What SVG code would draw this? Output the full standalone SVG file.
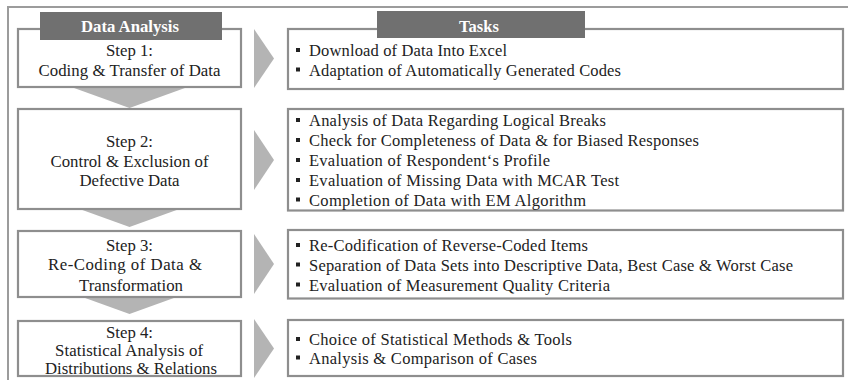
<svg xmlns="http://www.w3.org/2000/svg" width="848" height="380" viewBox="0 0 848 380">
  <defs>
    <style>
      .frame { fill: none; stroke: #9c9c9c; stroke-width: 2; }
      .box { fill: #ffffff; stroke: #8e8e8e; stroke-width: 2.2; }
      .head { fill: #707070; }
      .arrow { fill: #b4b4b4; }
      text { font-family: "Liberation Serif", "Times New Roman", serif; }
      .headtxt { font-weight: bold; font-size: 16.5px; fill: #ffffff; text-anchor: middle; }
      .step { font-size: 16.8px; fill: #222222; text-anchor: middle; }
      .task { font-size: 16.5px; fill: #222222; }
      .bullet { fill: #222222; }
    </style>
  </defs>

  <!-- outer frame (open to the right and bottom) -->
  <path class="frame" d="M8,380 V7 H848"/>

  <!-- connectors: downward and rightward chevrons -->
  <g id="connectors">
    <polygon class="arrow" points="63,84 196,84 129.5,108"/>
    <polygon class="arrow" points="63,203 196,203 129.5,227"/>
    <polygon class="arrow" points="63,290 196,290 129.5,314"/>
    <polygon class="arrow" points="254,29 254,88 274,58.5"/>
    <polygon class="arrow" points="254,130 254,190 274,160"/>
    <polygon class="arrow" points="254,234 254,294 274,264"/>
    <polygon class="arrow" points="254,319 254,378 274,348.5"/>
  </g>

  <!-- left column: analysis steps -->
  <g id="step1">
    <rect class="box" x="18" y="29" width="223" height="58"/>
    <rect class="head" x="40" y="12" width="182" height="28"/>
    <text class="headtxt" x="130" y="32" textLength="98" lengthAdjust="spacingAndGlyphs">Data Analysis</text>
    <text class="step" x="129.5" y="56">Step 1:</text>
    <text class="step" x="129.5" y="76" textLength="182" lengthAdjust="spacing">Coding &amp; Transfer of Data</text>
  </g>

  <g id="step2">
    <rect class="box" x="18" y="109" width="223" height="100"/>
    <text class="step" x="129.5" y="147">Step 2:</text>
    <text class="step" x="129.5" y="166.5" textLength="158" lengthAdjust="spacing">Control &amp; Exclusion of</text>
    <text class="step" x="129.5" y="186" textLength="100" lengthAdjust="spacing">Defective Data</text>
  </g>

  <g id="step3">
    <rect class="box" x="18" y="231" width="223" height="66"/>
    <text class="step" x="129.5" y="250.5">Step 3:</text>
    <text class="step" x="125" y="270" textLength="154" lengthAdjust="spacing">Re-Coding of Data &amp;</text>
    <text class="step" x="131" y="290.5" textLength="104" lengthAdjust="spacing">Transformation</text>
  </g>

  <g id="step4">
    <rect class="box" x="18" y="321" width="223" height="55"/>
    <text class="step" x="129.5" y="337.5">Step 4:</text>
    <text class="step" x="129" y="356" textLength="148" lengthAdjust="spacing">Statistical Analysis of</text>
    <text class="step" x="131" y="374" textLength="172" lengthAdjust="spacing">Distributions &amp; Relations</text>
  </g>

  <!-- right column: tasks -->
  <g id="tasks1">
    <rect class="box" x="288" y="29" width="555" height="60"/>
    <rect class="head" x="377" y="11" width="208" height="27"/>
    <text class="headtxt" x="479" y="32">Tasks</text>
    <rect class="bullet" x="296" y="48" width="4" height="4"/>
    <rect class="bullet" x="296" y="67.5" width="4" height="4"/>
    <text class="task" x="309" y="56" textLength="198" lengthAdjust="spacing">Download of Data Into Excel</text>
    <text class="task" x="309" y="75.5" textLength="312" lengthAdjust="spacing">Adaptation of Automatically Generated Codes</text>
  </g>

  <g id="tasks2">
    <rect class="box" x="288" y="109" width="555" height="101.5"/>
    <rect class="bullet" x="296" y="118" width="4" height="4"/>
    <rect class="bullet" x="296" y="138" width="4" height="4"/>
    <rect class="bullet" x="296" y="158" width="4" height="4"/>
    <rect class="bullet" x="296" y="178" width="4" height="4"/>
    <rect class="bullet" x="296" y="197.5" width="4" height="4"/>
    <text class="task" x="309" y="126" textLength="297" lengthAdjust="spacing">Analysis of Data Regarding Logical Breaks</text>
    <text class="task" x="309" y="146" textLength="390" lengthAdjust="spacing">Check for Completeness of Data &amp; for Biased Responses</text>
    <text class="task" x="309" y="166" textLength="241" lengthAdjust="spacing">Evaluation of Respondent‘s Profile</text>
    <text class="task" x="309" y="186" textLength="310" lengthAdjust="spacing">Evaluation of Missing Data with MCAR Test</text>
    <text class="task" x="309" y="205.5" textLength="277" lengthAdjust="spacing">Completion of Data with EM Algorithm</text>
  </g>

  <g id="tasks3">
    <rect class="box" x="288" y="230" width="555" height="68.5"/>
    <rect class="bullet" x="296" y="243" width="4" height="4"/>
    <rect class="bullet" x="296" y="262.5" width="4" height="4"/>
    <rect class="bullet" x="296" y="282.5" width="4" height="4"/>
    <text class="task" x="309" y="251" textLength="279" lengthAdjust="spacing">Re-Codification of Reverse-Coded Items</text>
    <text class="task" x="309" y="270.5" textLength="484" lengthAdjust="spacing">Separation of Data Sets into Descriptive Data, Best Case &amp; Worst Case</text>
    <text class="task" x="309" y="290.5" textLength="301" lengthAdjust="spacing">Evaluation of Measurement Quality Criteria</text>
  </g>

  <g id="tasks4">
    <rect class="box" x="288" y="320" width="555" height="56"/>
    <rect class="bullet" x="296" y="337" width="4" height="4"/>
    <rect class="bullet" x="296" y="355.5" width="4" height="4"/>
    <text class="task" x="309" y="345" textLength="263" lengthAdjust="spacing">Choice of Statistical Methods &amp; Tools</text>
    <text class="task" x="309" y="363.5" textLength="228" lengthAdjust="spacing">Analysis &amp; Comparison of Cases</text>
  </g>
</svg>
